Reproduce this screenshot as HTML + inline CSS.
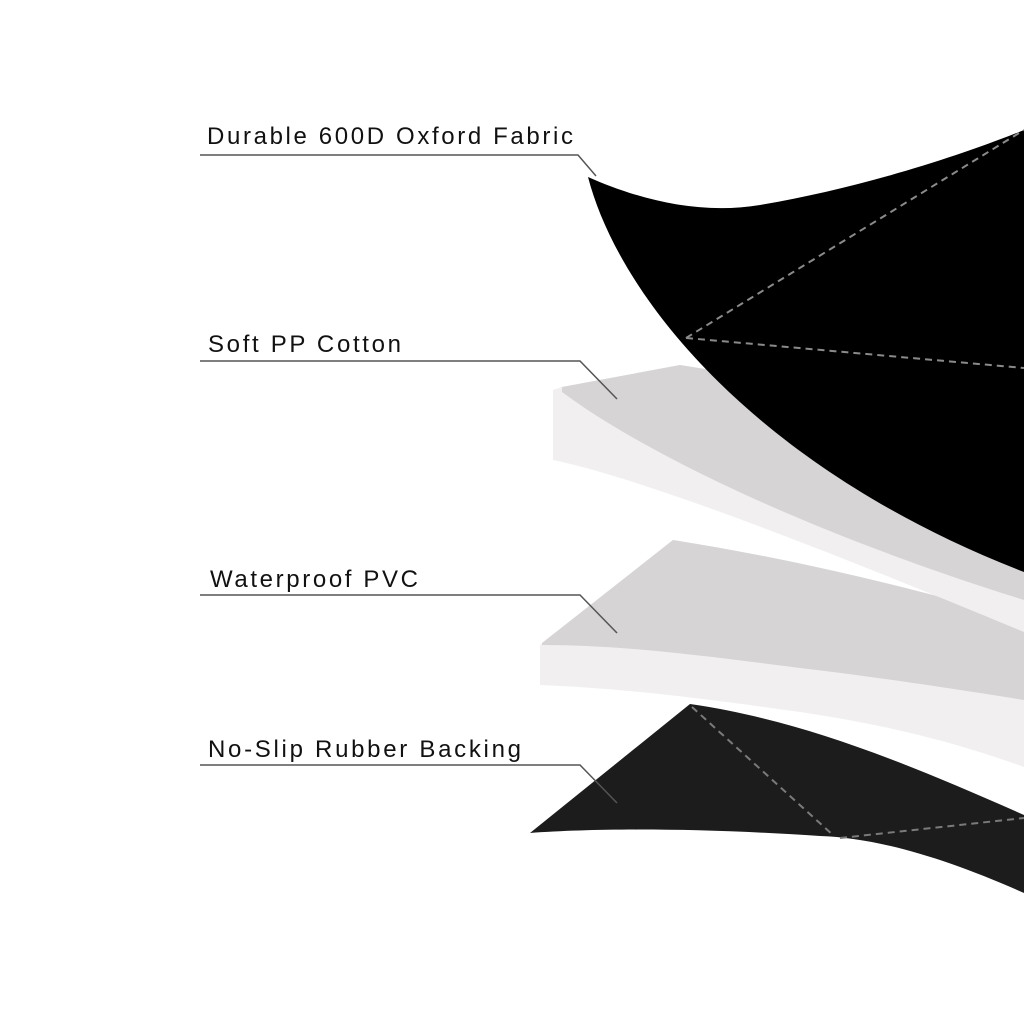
<!DOCTYPE html>
<html><head><meta charset="utf-8"><style>html,body{margin:0;padding:0;background:#fff}svg{display:block}</style></head>
<body>
<svg width="1024" height="1024" viewBox="0 0 1024 1024" xmlns="http://www.w3.org/2000/svg">
<rect width="1024" height="1024" fill="#fff"/>
<!-- rubber backing -->
<path d="M530,833 L690,704 C800,720 900,760 1024,815 L1024,893 C950,860 880,838 820,836 C700,828 600,828 530,833 Z" fill="#1c1c1c"/>
<path d="M692,707 L834,836" stroke="#7a7a7a" stroke-width="2" stroke-dasharray="7,5" fill="none"/>
<path d="M840,838 L1024,818" stroke="#7a7a7a" stroke-width="2" stroke-dasharray="7,5" fill="none"/>
<!-- PVC -->
<path d="M540,645 L673,540 C800,560 920,590 1024,620 L1024,767 C950,740 880,724 800,712 C700,698 620,688 540,685 Z" fill="#f1efef"/>
<path d="M542,643 L673,540 C800,560 920,590 1024,620 L1024,700 C930,685 860,675 800,668 C700,655 620,645 542,645 Z" fill="#d6d4d4"/>
<!-- cotton -->
<path d="M553,390 L562,387 L680,365 L1024,420 L1024,632 C850,560 650,480 553,460 Z" fill="#f1efef"/>
<path d="M562,387 L680,365 L1024,420 L1024,600 C800,530 640,450 562,392 Z" fill="#d6d4d4"/>
<!-- top oxford -->
<path d="M588,177 C640,200 700,215 760,205 C850,190 950,160 1024,130 L1024,572 C760,470 620,300 588,177 Z" fill="#000"/>
<path d="M686,338 L1024,130" stroke="#8a8a8a" stroke-width="2" stroke-dasharray="7,5" fill="none"/>
<path d="M686,338 L1024,368" stroke="#8a8a8a" stroke-width="2" stroke-dasharray="7,5" fill="none"/>
<!-- labels -->
<g font-family="Liberation Sans, sans-serif" font-size="24" fill="#111">
<text x="207" y="144" textLength="366" lengthAdjust="spacing">Durable 600D Oxford Fabric</text>
<text x="208" y="352" textLength="193" lengthAdjust="spacing">Soft PP Cotton</text>
<text x="210" y="587" textLength="208" lengthAdjust="spacing">Waterproof PVC</text>
<text x="208" y="757" textLength="313" lengthAdjust="spacing">No-Slip Rubber Backing</text>
</g>
<g stroke="#555" stroke-width="1.5" fill="none">
<path d="M200,155 L578,155 L596,176"/>
<path d="M200,361 L580,361 L617,399"/>
<path d="M200,595 L580,595 L617,633"/>
<path d="M200,765 L580,765 L617,803"/>
</g>
</svg>
</body></html>
